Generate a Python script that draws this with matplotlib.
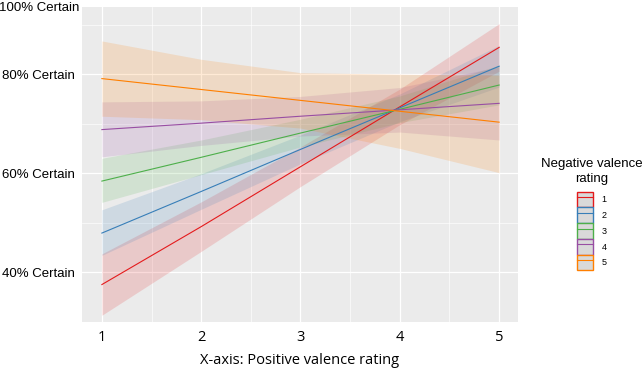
import numpy as np
import matplotlib
matplotlib.use("Agg")
import matplotlib.pyplot as plt
from matplotlib.patches import Patch
from matplotlib.lines import Line2D
from matplotlib.legend_handler import HandlerTuple

plt.rcParams['font.family'] = ['Liberation Sans', 'DejaVu Sans']

# positive valence rating (x)
x_vals = [1, 2, 3, 4, 5]
groups = ['1', '2', '3', '4', '5']
colors = ['#E41A1C', '#377EB8', '#4DAF4A', '#984EA3', '#FF7F00']

# fitted certainty per negative valence rating
fit = {
    '1': [37.5, 49.2, 61.3, 73.4, 85.4],
    '2': [47.9, 56.3, 64.8, 73.2, 81.6],
    '3': [58.4, 63.2, 68.1, 72.9, 77.8],
    '4': [68.8, 70.1, 71.5, 72.8, 74.1],
    '5': [79.1, 76.9, 74.7, 72.5, 70.3],
}
upper = {
    '1': [43.7, 54.2, 65.3, 77.0, 90.2],
    '2': [52.6, 59.9, 67.7, 76.0, 85.8],
    '3': [63.0, 66.7, 70.9, 75.6, 81.8],
    '4': [74.4, 74.6, 75.5, 77.3, 81.5],
    '5': [86.7, 83.0, 80.3, 80.0, 79.8],
}
lower = {
    '1': [31.3, 44.2, 57.3, 69.8, 80.6],
    '2': [43.4, 52.7, 61.9, 70.4, 77.4],
    '3': [54.1, 59.7, 65.3, 70.2, 73.8],
    '4': [63.3, 65.6, 67.5, 68.3, 66.7],
    '5': [71.5, 70.8, 69.1, 65.0, 60.1],
}

y_ticks = [40, 60, 80]
y_labels = ['40% Certain', '60% Certain', '80% Certain']

fig = plt.figure(figsize=(6.44, 3.73), dpi=100)
ax = fig.add_axes([82/644, 1-321.7/373, (518-82)/644, (321.7-7.3)/373])
ax.set_facecolor('#ebebeb')

for g, c in zip(groups, colors):
    ax.fill_between(x_vals, lower[g], upper[g], color=c, alpha=0.16, lw=0)
for g, c in zip(groups, colors):
    ax.plot(x_vals, fit[g], color=c, lw=0.8)

ax.set_xlim(0.8, 5.19)
ax.set_ylim(30, 93.5)
ax.set_xticks(x_vals)
ax.set_xticks([1.5, 2.5, 3.5, 4.5], minor=True)
ax.set_yticks(y_ticks)
ax.set_yticklabels(y_labels, fontsize=9.5)
ax.set_yticks([30, 50, 70, 90], minor=True)
ax.set_xticklabels([str(v) for v in x_vals], fontsize=10.5, family=['Open Sans', 'DejaVu Sans'])
ax.grid(which='major', color='white', lw=0.9)
ax.grid(which='minor', color='white', lw=0.45)
ax.set_axisbelow(True)
ax.tick_params(which='both', length=0)
ax.tick_params(axis='y', pad=5)
ax.tick_params(axis='x', pad=6)
for s in ax.spines.values():
    s.set_visible(False)

ax.set_xlabel('X-axis: Positive valence rating', fontsize=10.5,
              family=['Open Sans', 'DejaVu Sans'], labelpad=6)

fig.text(79/644, 1-8/373, '100% Certain', ha='right', va='center', fontsize=9.5)

handles = [(Patch(facecolor='#d9d9d9', edgecolor=c, lw=1.0),
            Line2D([], [], color=c, lw=0.8)) for c in colors]
leg = fig.legend(handles, groups, handler_map={tuple: HandlerTuple(ndivide=1)},
                 loc='center', bbox_to_anchor=(592/644, 1-214/373),
                 frameon=False, fontsize=6.5, title='Negative valence\nrating',
                 title_fontsize=9.5, handlelength=1.77, handleheight=2.3,
                 labelspacing=0.0, handletextpad=0.9, borderpad=0, borderaxespad=0)
leg.get_title().set_multialignment('center')
leg.get_title().set_linespacing(1.35)
leg._legend_box.sep = 5

fig.savefig('out.png', dpi=100)
